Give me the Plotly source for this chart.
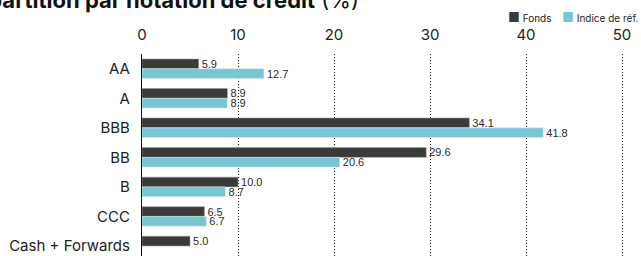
import plotly.graph_objects as go

categories = ["AA", "A", "BBB", "BB", "B", "CCC", "Cash + Forwards"]
fonds = [5.9, 8.9, 34.1, 29.6, 10.0, 6.5, 5.0]
indice = [12.7, 8.9, 41.8, 20.6, 8.7, 6.7, None]
x_ticks = [0, 10, 20, 30, 40, 50]

C_FONDS = "#3a3b39"
C_INDICE = "#78c5d4"
W, H = 641, 256
L, R, T, B = 142, 5, 54, 0

label_font = dict(family="Liberation Sans, Arial", size=11, color="#2a2a2a")

fig = go.Figure()
fig.add_trace(go.Bar(
    y=categories, x=fonds, orientation="h", name="Fonds",
    marker=dict(color=C_FONDS, line=dict(color="#9a9a9a", width=0.6)),
    text=[f"{v:.1f}" for v in fonds], textposition="outside",
    textfont=label_font, constraintext="none",
    cliponaxis=False,
))
fig.add_trace(go.Bar(
    y=categories, x=indice, orientation="h", name="Indice de réf.",
    marker=dict(color=C_INDICE, line=dict(color="#d8eef2", width=0.6)),
    text=[f"{v:.1f}" if v is not None else "" for v in indice], textposition="outside",
    textfont=label_font, constraintext="none",
    cliponaxis=False,
))

pw = W - L - R
ph = H - T - B
px_per_unit = 9.6
fig.update_layout(
    width=W, height=H,
    margin=dict(l=L, r=R, t=T, b=B, pad=0),
    barmode="group", bargap=0.34, bargroupgap=0,
    plot_bgcolor="white", paper_bgcolor="white",
    showlegend=False,
    font=dict(family="Inter, Liberation Sans, Arial", color="#222"),
    xaxis=dict(
        side="top", range=[0, pw / px_per_unit], tickvals=x_ticks,
        showgrid=True, gridcolor="#111", griddash="1px,2px", gridwidth=1,
        zeroline=False, showline=False,
        ticks="outside", ticklen=7, tickcolor="rgba(0,0,0,0)",
        tickfont=dict(size=15, color="#222"),
    ),
    yaxis=dict(
        categoryorder="array", categoryarray=categories,
        range=[6.34, -0.5],
        showgrid=False, zeroline=False,
        showline=True, linecolor="#111", linewidth=1.2,
        ticks="outside", ticklen=8, tickcolor="rgba(0,0,0,0)",
        tickfont=dict(size=15, color="#222"),
    ),
)

def px2paper_x(p):
    return (p - L) / pw

def px2paper_y(p):
    return 1 - (p - T) / ph

fig.add_annotation(
    text="<b>Répartition par notation de crédit</b> (%)",
    xref="paper", yref="paper", x=px2paper_x(361), y=px2paper_y(0),
    xanchor="right", yanchor="middle", showarrow=False,
    font=dict(size=22, color="#111", family="Inter, Liberation Sans, Arial"),
)

fig.add_annotation(
    text=f"<span style='color:{C_FONDS};font-size:13px'>■</span> Fonds",
    xref="paper", yref="paper", x=px2paper_x(506), y=px2paper_y(17),
    xanchor="left", yanchor="middle", showarrow=False,
    font=dict(size=10, color="#222", family="Inter, Liberation Sans, Arial"),
)
fig.add_annotation(
    text=f"<span style='color:{C_INDICE};font-size:13px'>■</span> Indice de réf.",
    xref="paper", yref="paper", x=px2paper_x(641), y=px2paper_y(17),
    xanchor="right", yanchor="middle", showarrow=False,
    font=dict(size=10, color="#222", family="Inter, Liberation Sans, Arial"),
)

fig.write_html("out.html", config={"displayModeBar": False},
               post_script="document.body.style.margin='0';")
